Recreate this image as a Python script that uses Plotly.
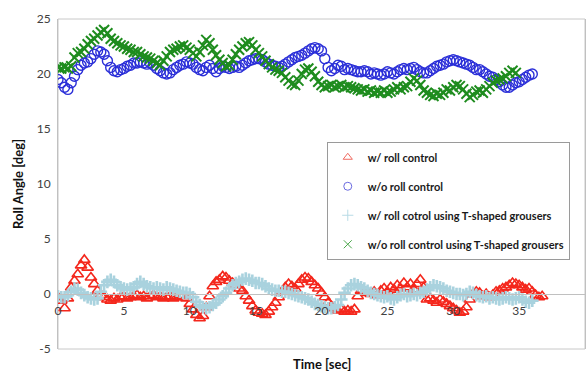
import plotly.graph_objects as go

T_STEP = 0.25  # sampling interval of the recorded data [sec]

# w/ roll control (red triangles)
roll_ctrl = [
    -0.3, -0.6, -1.3, -0.4, 0.6, 1.2, 1.8, 2.6,
    3.1, 2.4, 1.5, 0.9, 0.3, -0.1, -0.3, -0.5,
    -0.6, -0.4, -0.5, -0.3, -0.2, -0.4, -0.3, -0.2,
    -0.1, -0.3, -0.2, -0.4, -0.2, -0.1, -0.3, -0.2,
    -0.4, -0.3, -0.2, -0.4, -0.3, -0.1, -0.2, -0.4,
    -0.9, -1.4, -1.9, -2.2, -2.0, -1.2, -0.2, 0.7,
    1.1, 1.3, 1.6, 1.5, 1.2, 1.0, 0.8, 0.5,
    0.3, -0.2, -0.6, -1.1, -1.5, -1.7, -1.8, -1.9,
    -1.6, -1.2, -0.8, -0.3, 0.2, 0.6, 0.9, 0.7,
    0.5, 0.9, 1.3, 1.5, 1.4, 1.1, 0.8, 0.5,
    0.1, -0.3, -0.8, -1.1, -1.3, -1.5, -1.4, -1.6,
    -1.5, -1.6, -1.4, -0.2, 0.3, 0.2, 0.1, 0.0,
    0.2, -0.1, 0.3, 0.5, 0.2, 0.6, 0.4, 0.8,
    0.5, 1.0, 0.6, 0.9, 0.4, 0.9, 1.3, 0.6,
    -0.5, -0.4, -0.6, -0.8, -0.5, -0.7, -0.9, -1.1,
    -1.3, -1.5, -1.7, -1.6, -1.2, -0.5, 0.0, 0.2,
    0.1, -0.2, 0.0, -0.3, -0.1, 0.2, 0.3, 0.5,
    0.6, 0.8, 1.0, 0.9, 0.8, 0.6, 0.4, 0.5,
    0.2, -0.1, -0.3, -0.2,
]

# w/o roll control (blue circles)
no_ctrl = [
    19.5, 19.2, 18.8, 18.6, 19.2, 19.8, 20.4, 20.8,
    21.0, 21.1, 21.4, 21.8, 22.1, 22.0, 21.8, 21.2,
    20.6, 20.3, 20.2, 20.4, 20.5, 20.7, 20.8, 21.0,
    21.0, 21.1, 21.0, 20.9, 21.0, 20.8, 20.5, 20.3,
    20.1, 20.0, 20.1, 20.4, 20.6, 20.8, 20.9, 21.1,
    21.0, 20.9, 20.6, 20.4, 20.3, 20.6, 20.8, 20.5,
    20.2, 20.5, 20.7, 20.6, 20.5, 20.6, 20.7, 20.6,
    20.8, 21.0, 21.2, 21.3, 21.4, 21.4, 21.3, 21.1,
    20.9, 20.8, 20.7, 20.6, 20.7, 20.9, 21.1, 21.3,
    21.5, 21.6, 21.7, 21.9, 22.1, 22.3, 22.4, 22.3,
    22.1, 21.4, 20.6, 20.3, 20.5, 20.8, 20.7, 20.4,
    20.5, 20.4, 20.3, 20.2, 20.2, 20.3, 20.2, 20.0,
    20.1, 20.0, 19.9, 20.0, 20.2, 20.1, 20.0, 20.2,
    20.4, 20.5, 20.4, 20.5, 20.6, 20.4, 20.2, 20.1,
    20.1, 20.3, 20.5, 20.7, 20.8, 20.9, 21.1, 21.2,
    21.3, 21.2, 21.1, 21.0, 20.9, 20.8, 20.6, 20.4,
    20.4, 20.2, 20.0, 19.8, 19.7, 19.5, 19.3, 19.0,
    18.8, 18.8, 19.0, 19.2, 19.3, 19.5, 19.7, 19.9,
    20.0,
]

# w/ roll control using T-shaped grousers (light blue plus)
roll_ctrl_t = [
    -0.2, -0.3, -0.3, -0.1, 0.2, 0.5, 0.4, 0.1,
    -0.1, -0.3, -0.4, -0.5, -0.4, 0.2, 0.8, 1.1,
    1.3, 1.1, 0.8, 0.6, 0.5, 0.4, 0.5, 0.6,
    0.9, 1.1, 0.9, 0.7, 0.6, 0.5, 0.6, 0.5,
    0.4, 0.6, 0.5, 0.4, 0.3, 0.2, 0.1, 0.1,
    0.0, -0.3, -0.7, -1.0, -1.2, -1.3, -1.2, -1.0,
    -0.8, -0.5, -0.2, 0.1, 0.5, 0.8, 1.0, 1.1,
    1.3, 1.4, 1.3, 1.2, 1.0, 1.0, 0.9, 0.7,
    0.5, 0.4, 0.3, 0.3, 0.2, 0.2, 0.1, 0.0,
    -0.1, -0.2, -0.3, -0.4, -0.5, -0.7, -0.9, -1.0,
    -1.1, -1.2, -1.3, -1.3, -1.2, -1.0, -0.5, 0.1,
    0.5, 0.8, 0.9, 0.8, 0.6, 0.5, 0.3, 0.1,
    0.0, -0.1, -0.2, -0.3, -0.2, -0.4, -0.5, -0.3,
    -0.1, 0.0, -0.2, -0.1, 0.0, -0.1, 0.1, 0.2,
    0.4, 0.6, 0.8, 0.7, 0.6, 0.5, 0.3, 0.2,
    0.1, 0.0, 0.0, -0.1, 0.0, 0.2, 0.1, -0.1,
    -0.2, -0.3, -0.2, -0.4, -0.3, -0.4, -0.5, -0.4,
    -0.3, -0.4, -0.5, -0.4, -0.3, -0.5, -0.7, -0.8,
    -0.6,
]

# w/o roll control using T-shaped grousers (green x)
no_ctrl_t = [
    20.6, 20.5, 20.6, 20.5, 20.7, 21.5, 21.9, 22.0,
    22.3, 22.7, 23.0, 23.2, 23.5, 23.8, 24.0, 23.7,
    23.2, 23.0, 22.8, 22.6, 22.5, 22.3, 22.2, 22.0,
    22.0, 21.8, 21.6, 21.5, 21.4, 21.2, 21.0, 20.8,
    21.2, 21.6, 22.0, 22.2, 22.3, 22.5, 22.6, 22.4,
    22.2, 21.9, 21.6, 22.0, 22.6, 23.1, 22.8, 22.2,
    21.7, 21.3, 21.0, 20.7, 20.8, 21.3, 21.8, 22.2,
    22.5, 22.8, 22.9, 22.6, 22.2, 21.9, 21.6, 21.2,
    20.9, 20.6, 20.4, 20.3, 20.1, 19.7, 19.4, 19.1,
    19.0, 19.4, 20.0, 20.4, 20.5, 20.2, 19.8, 19.3,
    19.0, 18.8, 18.9, 19.0, 18.8, 18.9, 19.0, 18.8,
    18.9, 18.8, 18.7, 18.6, 18.5, 18.6, 18.4, 18.5,
    18.3, 18.4, 18.3, 18.5, 18.3, 18.4, 18.6, 18.8,
    18.6, 18.8, 18.9, 19.3, 19.6, 19.4, 19.0, 18.5,
    18.3, 18.1, 18.0, 18.2, 18.1, 18.3, 18.6, 18.5,
    18.8, 19.0, 18.9, 18.6, 18.2, 17.9, 18.1, 18.4,
    18.5, 18.3, 18.6, 18.9, 19.2, 19.4, 19.5, 19.6,
    19.8, 20.1, 20.3, 20.1,
]

series_names = [
    "w/ roll control",
    "w/o roll control",
    "w/ roll cotrol using T-shaped grousers",
    "w/o roll control using T-shaped grousers",
]
x_ticks = [0, 5, 10, 15, 20, 25, 30, 35, 40]
y_ticks = [-5, 0, 5, 10, 15, 20, 25]


def times(vals):
    return [i * T_STEP for i in range(len(vals))]


FONT = "Lato, 'Open Sans', sans-serif"

styles = [
    dict(symbol="triangle-up-open", size=10, color="#f4271c", lw=1.6),
    dict(symbol="circle-open", size=10, color="#2b2fd8", lw=1.4),
    dict(symbol="cross-thin-open", size=9, color="#a9d2de", lw=2.6),
    dict(symbol="x-thin-open", size=10, color="#1e8c1e", lw=2.0),
]
legend_styles = [
    dict(size=8, lw=1.0, color="#f06a60"),
    dict(size=8, lw=1.0, color="#6a6ae0"),
    dict(size=8, lw=1.0, color="#b8dbe6"),
    dict(size=8, lw=1.0, color="#4aa84a"),
]
data = [roll_ctrl, no_ctrl, roll_ctrl_t, no_ctrl_t]

fig = go.Figure()

for vals, st in zip(data, styles):
    fig.add_trace(go.Scatter(
        x=times(vals), y=vals, mode="markers", showlegend=False,
        marker=dict(symbol=st["symbol"], size=st["size"], color=st["color"],
                    line=dict(width=st["lw"], color=st["color"])),
    ))

# legend entries (drawn with the small symbols used in the original legend)
for i, (name, st, ls) in enumerate(zip(series_names, styles, legend_styles)):
    fig.add_trace(go.Scatter(
        x=[None], y=[None], mode="markers", name=name, legendgroup=str(i),
        marker=dict(symbol=st["symbol"], size=ls["size"], color=ls["color"],
                    line=dict(width=ls["lw"], color=ls["color"])),
    ))

fig.update_layout(
    width=586, height=373,
    margin=dict(l=58, r=1, t=19, b=24),
    paper_bgcolor="white", plot_bgcolor="white",
    font=dict(family=FONT, size=12, color="#333333"),
    showlegend=True,
    legend=dict(
        x=0.51, y=0.628, xanchor="left", yanchor="top",
        bgcolor="white", bordercolor="#9a9a9a", borderwidth=1,
        font=dict(family=FONT, size=11, color="#1a1a1a", weight="bold"),
        tracegroupgap=10, traceorder="grouped", itemwidth=30,
    ),
    xaxis=dict(
        range=[0, 40], tickvals=x_ticks, ticktext=[str(v) for v in x_ticks],
        anchor="free", position=1 / 6,
        showline=True, linecolor="#c0c0c0", linewidth=1,
        showgrid=False, zeroline=False,
        ticks="outside", ticklen=6, tickcolor="rgba(0,0,0,0)",
        tickfont=dict(size=12, color="#404040"),
    ),
    yaxis=dict(
        range=[-5, 25], tickvals=y_ticks, ticktext=[str(v) for v in y_ticks],
        showline=True, linecolor="#c0c0c0", linewidth=1, mirror=True,
        showgrid=False, zeroline=False,
        ticks="outside", ticklen=4, tickcolor="rgba(0,0,0,0)",
        tickfont=dict(size=12, color="#404040"),
    ),
    shapes=[dict(type="rect", xref="paper", yref="paper", x0=0, x1=1, y0=0, y1=1,
                 line=dict(color="#c8c8c8", width=1), layer="below")],
    annotations=[
        dict(text="<b>Time [sec]</b>", xref="paper", yref="paper",
             x=0.5, y=-0.044, xanchor="center", yanchor="middle",
             showarrow=False, font=dict(family=FONT, size=13, color="#111111")),
        dict(text="<b>Roll Angle [deg]</b>", xref="paper", yref="paper",
             x=-0.076, y=0.5, xanchor="center", yanchor="middle", textangle=-90,
             showarrow=False, font=dict(family=FONT, size=13, color="#111111")),
    ],
)

fig.write_html("out.html")
